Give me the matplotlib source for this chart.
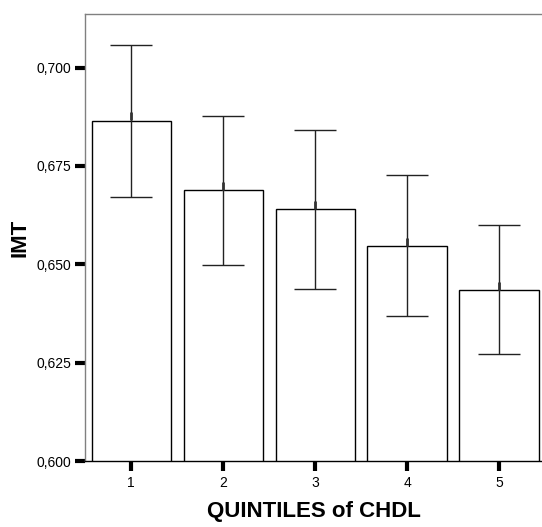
import matplotlib
matplotlib.use("Agg")
from matplotlib import pyplot as plt
from matplotlib.transforms import offset_copy

plt.rcParams['font.family'] = ['Liberation Sans', 'DejaVu Sans']

# quintiles de CHDL e valores medios de IMT (com intervalo de confianca)
quintis = [1, 2, 3, 4, 5]
media = [0.6865, 0.6688, 0.6641, 0.6546, 0.6434]
ic_sup = [0.7056, 0.6877, 0.6842, 0.6728, 0.6600]
ic_inf = [0.6672, 0.6499, 0.6438, 0.6368, 0.6273]
yticks = [0.600, 0.625, 0.650, 0.675, 0.700]
ylabels = ["0,600", "0,625", "0,650", "0,675", "0,700"]

fig = plt.figure(figsize=(5.42, 5.27), dpi=100)
ax = fig.add_axes([0.157, 0.1252, 0.843, 0.8482])

ax.bar(quintis, media, width=0.86, color="white", edgecolor="black", linewidth=1.0, zorder=2)

err = [[m - lo for m, lo in zip(media, ic_inf)], [hi - m for m, hi in zip(media, ic_sup)]]
ax.errorbar(quintis, media, yerr=err, fmt="none", ecolor="#222222", elinewidth=1.0,
            capsize=15, capthick=1.0, zorder=3)
# pequeno traco na media (um pouco acima do topo da barra)
trans = offset_copy(ax.transData, fig=fig, x=0, y=3, units="points")
ax.plot(quintis, media, linestyle="none", marker="|", markersize=6, markeredgewidth=2,
        color="#333333", zorder=4, transform=trans)

ax.set_xlim(0.5, 5.467)
ax.set_ylim(0.600, 0.7136)
ax.set_xticks(quintis)
ax.set_xticklabels([str(q) for q in quintis])
ax.set_yticks(yticks)
ax.set_yticklabels(ylabels)
ax.tick_params(axis="both", direction="out", length=7, width=3, labelsize=10, color="black")
ax.tick_params(axis="y", pad=3)
ax.tick_params(axis="x", pad=4)

ax.spines["right"].set_visible(False)
ax.spines["top"].set_color("#808080")
ax.spines["left"].set_color("#808080")
ax.spines["bottom"].set_color("black")
for s in ax.spines.values():
    s.set_linewidth(1.0)

ax.set_ylabel("IMT", fontsize=16, fontweight="bold", labelpad=4)
ax.set_xlabel("QUINTILES of CHDL", fontsize=16, fontweight="bold", labelpad=8)

fig.savefig("out.png", dpi=100)
